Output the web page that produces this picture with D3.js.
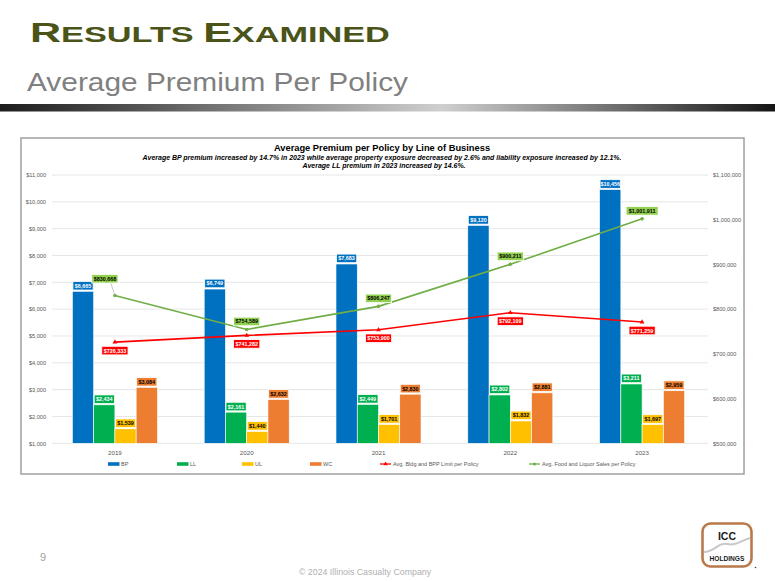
<!DOCTYPE html>
<html><head><meta charset="utf-8">
<script src="https://cdnjs.cloudflare.com/ajax/libs/d3/7.8.5/d3.min.js"></script>
<style>html,body{margin:0;padding:0;background:#fff;}svg{display:block;}</style>
</head><body>
<svg id="c" width="775" height="581"></svg>
<script>
const years = ["2019","2020","2021","2022","2023"];
const seriesNames = ["BP","LL","UL","WC"];
const bpValues = [6665, 6749, 7683, 9120, 10456];
const llValues = [2434, 2161, 2449, 2802, 3211];
const ulValues = [1539, 1440, 1701, 1832, 1697];
const wcValues = [3084, 2632, 2830, 2881, 2959];
const bldgLimit = [726333, 741282, 753900, 792109, 771259];
const foodSales = [830668, 754589, 806247, 900211, 1001911];
const leftTicks = [1000,2000,3000,4000,5000,6000,7000,8000,9000,10000,11000];
const rightTicks = [500000,600000,700000,800000,900000,1000000,1100000];
const lineNames = ["Avg. Bldg and BPP Limit per Policy","Avg. Food and Liquor Sales per Policy"];

const barColors = {BP:"#0070c0", LL:"#00b050", UL:"#ffc000", WC:"#ed7d31"};
const barText = {BP:"#fff", LL:"#fff", UL:"#000", WC:"#000"};
const barData = {BP:bpValues, LL:llValues, UL:ulValues, WC:wcValues};

const svg = d3.select("#c");
const defs = svg.append("defs");
const g1 = defs.append("linearGradient").attr("id","hb").attr("x1","0").attr("x2","1").attr("y1","0").attr("y2","0");
g1.append("stop").attr("offset","0").attr("stop-color","#1c1c1c");
g1.append("stop").attr("offset","0.57").attr("stop-color","#cfcfcf");
g1.append("stop").attr("offset","1").attr("stop-color","#151515");

const font = "Liberation Sans, Arial, sans-serif";

// Header
const h = svg.append("text").attr("font-family",font).attr("font-weight","bold").attr("fill","#4a5418");
h.append("tspan").attr("font-size",27).text("R");
h.append("tspan").attr("font-size",21.5).text("ESULTS ");
h.append("tspan").attr("font-size",27).text("E");
h.append("tspan").attr("font-size",21.5).text("XAMINED");
const hw = h.node().getBBox().width;
h.attr("transform",`translate(30,42) scale(${360/hw},1)`);

svg.append("text").attr("x",27).attr("y",90.5).attr("font-family",font).attr("font-size",25.5).attr("fill","#808080")
  .attr("textLength",381).attr("lengthAdjust","spacingAndGlyphs").text("Average Premium Per Policy");

svg.append("rect").attr("x",0).attr("y",104).attr("width",775).attr("height",7.5).attr("fill","url(#hb)");

// Chart frame
svg.append("rect").attr("x",21).attr("y",138).attr("width",723).attr("height",336).attr("fill","#fff").attr("stroke","#a0a0a0").attr("stroke-width",1.5);

const x0 = 49, x1 = 708, yTop = 175, yBot = 443.3;
const x = d3.scaleBand().domain(years).range([x0,x1]).paddingInner(0.355).paddingOuter(0.1775);
const xs = d3.scaleBand().domain(seriesNames).range([0,x.bandwidth()]).padding(0);
const yL = d3.scaleLinear().domain([1000,11000]).range([yBot,yTop]);
const yR = d3.scaleLinear().domain([500000,1100000]).range([yBot,yTop]);
const cx = d => x(d) + x.bandwidth()/2;

// Title
const tg = svg.append("g").attr("font-family",font).attr("text-anchor","middle").attr("fill","#000");
tg.append("text").attr("x",382).attr("y",150.5).attr("font-size",9.3).attr("font-weight","bold").text("Average Premium per Policy by Line of Business");
const s1 = tg.append("text").attr("x",382).attr("y",159.5).attr("font-size",7.4).attr("font-weight","bold").attr("font-style","italic")
  .text("Average BP premium increased by 14.7% in 2023 while average property exposure decreased by 2.6% and liability  exposure increased by 12.1%.");
const s2 = tg.append("text").attr("x",384).attr("y",167.8).attr("font-size",7.4).attr("font-weight","bold").attr("font-style","italic")
  .text("Average LL premium in 2023 increased by 14.6%.");
const k = 479 / s1.node().getComputedTextLength();
s1.attr("textLength",479).attr("lengthAdjust","spacingAndGlyphs");
s2.attr("textLength",s2.node().getComputedTextLength()*k).attr("lengthAdjust","spacingAndGlyphs");

// Grid
svg.append("g").selectAll("line").data(leftTicks).join("line")
  .attr("x1",x0+3).attr("x2",x1).attr("y1",d=>yL(d)).attr("y2",d=>yL(d))
  .attr("stroke","#e0e0e0").attr("stroke-width",0.8);

// Axes
const axL = svg.append("g").attr("transform",`translate(${x0-3},0)`)
  .call(d3.axisLeft(yL).tickValues(leftTicks).tickSize(0).tickPadding(0).tickFormat(d=>"$"+d3.format(",")(d)));
const axR = svg.append("g").attr("transform",`translate(${x1+5},0)`)
  .call(d3.axisRight(yR).tickValues(rightTicks).tickSize(0).tickPadding(0).tickFormat(d=>"$"+d3.format(",")(d)));
const axB = svg.append("g").attr("transform",`translate(0,${yBot})`)
  .call(d3.axisBottom(x).tickSize(0).tickPadding(7));
[axL,axR,axB].forEach(a=>{a.select(".domain").remove(); a.selectAll("text").attr("font-family",font).attr("fill","#595959").attr("font-size",5.6);});
axB.selectAll("text").attr("font-size",6.2);

// Bars
const bars = svg.append("g");
seriesNames.forEach(s=>{
  bars.selectAll(null).data(years).join("rect")
    .attr("x",d=>x(d)+xs(s)).attr("width",xs.bandwidth())
    .attr("y",(d,i)=>yL(barData[s][i])).attr("height",(d,i)=>yBot-yL(barData[s][i]))
    .attr("fill",barColors[s]).attr("stroke","#fff").attr("stroke-width",0.6);
});

function label(g, cxp, cyp, txt, bg, fg, w){
  const bw = w || (txt.length*2.9+3);
  g.append("rect").attr("x",cxp-bw/2).attr("y",cyp-4.3).attr("width",bw).attr("height",8.6)
    .attr("fill",bg).attr("stroke","#fff").attr("stroke-width",0.8);
  g.append("text").attr("x",cxp).attr("y",cyp+2).attr("text-anchor","middle").attr("font-family",font)
    .attr("font-weight","bold").attr("font-size",5.4).attr("fill",fg).text(txt);
}
const fmt = d=>"$"+d3.format(",")(d);
const lg = svg.append("g");
seriesNames.forEach(s=>{
  years.forEach((yr,i)=>{
    const v = barData[s][i];
    label(lg, x(yr)+xs(s)+xs.bandwidth()/2, yL(v)-5.6, fmt(v), barColors[s], barText[s], xs.bandwidth()-1);
  });
});

// Lines
const lineR = d3.line().x((d,i)=>cx(years[i])).y(d=>yR(d));
svg.append("path").datum(bldgLimit).attr("d",lineR).attr("fill","none").attr("stroke","#ff0000").attr("stroke-width",1.6);
svg.append("path").datum(foodSales).attr("d",lineR).attr("fill","none").attr("stroke","#70ad47").attr("stroke-width",1.6);
svg.append("g").selectAll("path").data(bldgLimit).join("path")
  .attr("d",d3.symbol(d3.symbolTriangle,10)).attr("transform",(d,i)=>`translate(${cx(years[i])},${yR(d)})`).attr("fill","#ff0000");
svg.append("g").selectAll("circle").data(foodSales).join("circle")
  .attr("cx",(d,i)=>cx(years[i])).attr("cy",d=>yR(d)).attr("r",1.8).attr("fill","#70ad47");

const ll = svg.append("g");
bldgLimit.forEach((v,i)=>label(ll, cx(years[i]), yR(v)+8.5, fmt(v), "#ff0000", "#fff"));
foodSales.forEach((v,i)=>{
  if(i===0){
    const px = cx(years[i]), py = yR(v);
    ll.append("line").attr("x1",px).attr("y1",py).attr("x2",px-4.5).attr("y2",py-13.5).attr("stroke","#a6a6a6").attr("stroke-width",0.6);
    label(ll, px-10, py-16.7, fmt(v), "#92d050", "#000");
  } else {
    label(ll, cx(years[i]), yR(v)-8, fmt(v), "#92d050", "#000");
  }
});

// Legend
const legY = 464;
const leg = svg.append("g").attr("font-family",font).attr("font-size",5.5).attr("fill","#595959");
const legBarX = [108,177,242,310];
seriesNames.forEach((s,i)=>{
  leg.append("rect").attr("x",legBarX[i]).attr("y",legY-1.8).attr("width",11.5).attr("height",3.6).attr("fill",barColors[s]);
  leg.append("text").attr("x",legBarX[i]+13).attr("y",legY+2).text(s);
});
const legLineX = [380,529];
const legLineCol = ["#ff0000","#70ad47"];
lineNames.forEach((n,i)=>{
  leg.append("line").attr("x1",legLineX[i]).attr("x2",legLineX[i]+11).attr("y1",legY).attr("y2",legY).attr("stroke",legLineCol[i]).attr("stroke-width",1.3);
  if(i===0) leg.append("path").attr("d",d3.symbol(d3.symbolTriangle,8)).attr("transform",`translate(${legLineX[i]+5.5},${legY})`).attr("fill",legLineCol[i]);
  else leg.append("circle").attr("cx",legLineX[i]+5.5).attr("cy",legY).attr("r",1.5).attr("fill",legLineCol[i]);
  leg.append("text").attr("x",legLineX[i]+13).attr("y",legY+2).attr("fill","#595959").text(n);
});

// Footer
svg.append("text").attr("x",40).attr("y",561).attr("font-family",font).attr("font-size",11).attr("fill","#a0a0a0").text("9");
svg.append("text").attr("x",365).attr("y",575).attr("text-anchor","middle").attr("font-family",font).attr("font-size",8.8).attr("fill","#b0b0b0").text("© 2024 Illinois Casualty Company");

// Logo
const logo = svg.append("g");
logo.append("rect").attr("x",702.5).attr("y",523.5).attr("width",49).attr("height",43).attr("rx",8).attr("fill","#fff").attr("stroke","#b87a4b").attr("stroke-width",2.6);
logo.append("path").attr("d","M704,552 C715,552 718,542 727,544 C736,546 740,541 750,538").attr("fill","none").attr("stroke","#c8c8c8").attr("stroke-width",2);
logo.append("text").attr("x",727).attr("y",540).attr("text-anchor","middle").attr("font-family",font).attr("font-weight","bold").attr("font-size",10.5).attr("fill","#1a1a1a").text("ICC");
logo.append("text").attr("x",727).attr("y",561).attr("text-anchor","middle").attr("font-family",font).attr("font-weight","bold").attr("font-size",6.6).attr("fill","#1a1a1a").text("HOLDINGS");
logo.append("circle").attr("cx",755.5).attr("cy",567.5).attr("r",0.8).attr("fill","#444");
</script>
</body></html>
